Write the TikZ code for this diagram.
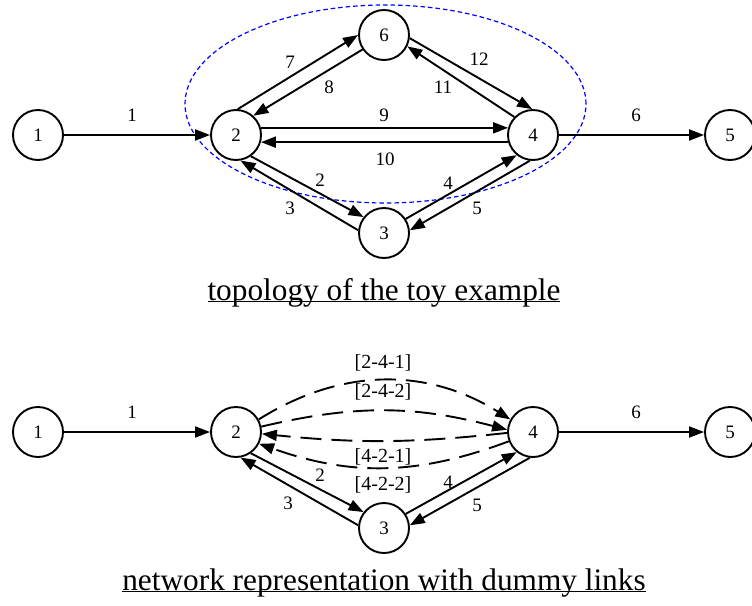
\documentclass[tikz,border=0pt]{standalone}
\usepackage{fontspec}
\setmainfont{Liberation Serif}
\usetikzlibrary{arrows.meta}

\begin{document}
\begin{tikzpicture}[x=1pt,y=1pt,
		vertex/.style={draw, circle, line width=1.9pt, minimum size=50pt, inner sep=0pt, font=\fontsize{19}{19}\selectfont},
		link/.style={line width=1.9pt, -{Triangle[length=15pt,width=11pt]}},
		dummy/.style={link, dash pattern=on 21pt off 10pt},
		lbl/.style={inner sep=0pt, font=\fontsize{19}{19}\selectfont},
		tag/.style={inner sep=0pt, font=\fontsize{20}{20}\selectfont},
		caption/.style={inner sep=0pt, anchor=base, font=\fontsize{31.3}{32}\selectfont}]
			\useasboundingbox (0,0) rectangle (752,-605);
			\draw[blue, line width=1.2pt, dash pattern=on 4.5pt off 3pt] (385.5,-104) ellipse (200.5 and 99);
			\node[vertex] (a1) at (38,-135) {1};
			\node[vertex] (a2) at (236,-135) {2};
			\node[vertex] (a6) at (384,-35) {6};
			\node[vertex] (a4) at (533,-135) {4};
			\node[vertex] (a5) at (730,-135) {5};
			\node[vertex] (a3) at (384,-233) {3};
			\draw[link] (a1.east) -- (a2.west);
			\draw[link] (a2.86) -- (a6.180);
			\draw[link] (a6.214) -- (a2.48);
			\draw[link] (a6.353) -- (a4.92);
			\draw[link] (a4.136) -- (a6.334);
			\draw[link] (a2.16) -- (a4.164);
			\draw[link] (a4.196) -- (a2.344);
			\draw[link] (a2.305) -- (a3.142);
			\draw[link] (a3.174) -- (a2.280);
			\draw[link] (a3.33) -- (a4.231);
			\draw[link] (a4.263) -- (a3.6);
			\draw[link] (a4.east) -- (a5.west);
			\node[lbl] (la1) at (132,-115) {1};
			\node[lbl] (la7) at (290,-62) {7};
			\node[lbl] (la8) at (329,-87) {8};
			\node[lbl] (la12) at (479,-59) {12};
			\node[lbl] (la11) at (443,-87) {11};
			\node[lbl] (la9) at (384,-115) {9};
			\node[lbl] (la10) at (385,-159) {10};
			\node[lbl] (la2) at (320,-180) {2};
			\node[lbl] (la3) at (290,-208) {3};
			\node[lbl] (la4) at (448,-183) {4};
			\node[lbl] (la5) at (477,-208) {5};
			\node[lbl] (la6) at (636,-115) {6};
			\node[caption] (topo) at (384,-300) {\underbar{topology of the toy example}};
			\node[vertex] (b1) at (38,-432) {1};
			\node[vertex] (b2) at (236,-432) {2};
			\node[vertex] (b4) at (533,-432) {4};
			\node[vertex] (b5) at (730,-432) {5};
			\node[vertex] (b3) at (384,-528) {3};
			\draw[link] (b1.east) -- (b2.west);
			\draw[dummy] (b2.29) to[bend left=32] (b4.151);
			\draw[dummy] (b2.12) to[bend left=14] (b4.175);
			\draw[dummy] (b4.182) to[bend left=6] (b2.356);
			\draw[dummy] (b4.201) to[bend left=20] (b2.333);
			\draw[link] (b2.305) -- (b3.142);
			\draw[link] (b3.174) -- (b2.280);
			\draw[link] (b3.33) -- (b4.231);
			\draw[link] (b4.263) -- (b3.6);
			\draw[link] (b4.east) -- (b5.west);
			\node[lbl] (lb1) at (132,-412) {1};
			\node[lbl] (lb2) at (320,-475) {2};
			\node[lbl] (lb3) at (288,-503) {3};
			\node[lbl] (lb4) at (448,-482) {4};
			\node[lbl] (lb5) at (477,-505) {5};
			\node[lbl] (lb6) at (636,-412) {6};
			\node[tag] (d241) at (383,-363) {[2-4-1]};
			\node[tag] (d242) at (383,-392) {[2-4-2]};
			\node[tag] (d421) at (383,-457) {[4-2-1]};
			\node[tag] (d422) at (383,-485) {[4-2-2]};
			\node[caption] (netw) at (384,-590) {\underbar{network representation with dummy links}};
		\end{tikzpicture}
\end{document}
